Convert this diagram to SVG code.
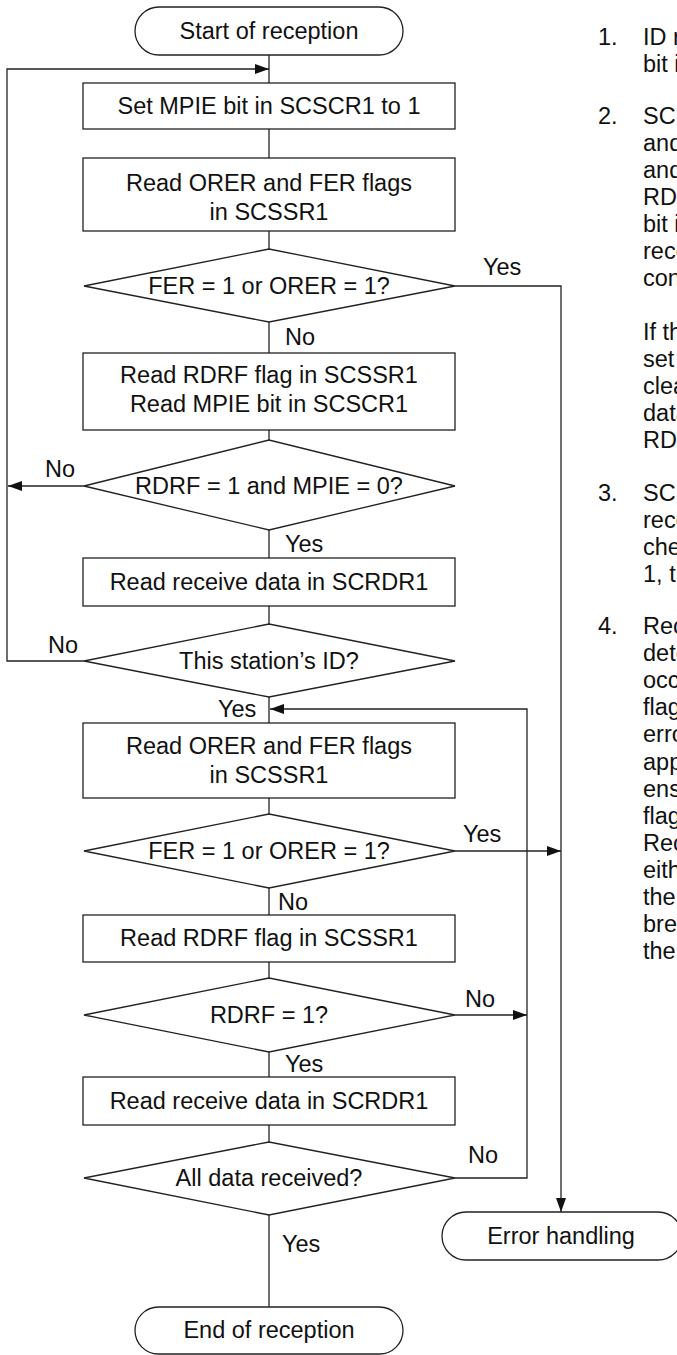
<svg xmlns="http://www.w3.org/2000/svg" width="677" height="1355" viewBox="0 0 677 1355">
<style>
text { font-family: "Liberation Sans", Arial, Helvetica, sans-serif; font-size: 23.5px; fill: #111; }
.c { text-anchor: middle; }
.shape { fill: #fff; stroke: #222; stroke-width: 1.3; }
.ln { fill: none; stroke: #222; stroke-width: 1.3; }
.arr { fill: none; stroke: #222; stroke-width: 1.3; marker-end: url(#ah); }
</style>
<defs>
<marker id="ah" viewBox="0 0 14 10" refX="14" refY="5" markerWidth="14" markerHeight="10" markerUnits="userSpaceOnUse" orient="auto">
<path d="M0,0 L14,5 L0,10 z" fill="#111"/>
</marker>
</defs>
<rect width="677" height="1355" fill="#fff"/>
<g id="connectors">
<path class="ln" d="M269,55 V83"/>
<path class="arr" d="M84,661 H7 V69 H269"/>
<path class="ln" d="M269,129 V158"/>
<path class="ln" d="M269,231 V249"/>
<path class="ln" d="M269,322 V353"/>
<path class="ln" d="M269,430 V440"/>
<path class="arr" d="M84,486 H8"/>
<path class="ln" d="M269,530 V558"/>
<path class="ln" d="M269,606 V624"/>
<path class="ln" d="M269,697 V723"/>
<path class="ln" d="M269,798 V814"/>
<path class="ln" d="M269,888 V915"/>
<path class="ln" d="M269,962 V978"/>
<path class="ln" d="M269,1052 V1077"/>
<path class="ln" d="M269,1125 V1142"/>
<path class="ln" d="M269,1215 V1307"/>
<path class="arr" d="M455,286 H561 V1212"/>
<path class="arr" d="M455,851 H561"/>
<path class="arr" d="M455,1015 H527"/>
<path class="arr" d="M455,1178 H527 V709 H270"/>
<text x="483" y="275">Yes</text>
<text x="285" y="345">No</text>
<text x="45" y="477">No</text>
<text x="285" y="552">Yes</text>
<text x="48" y="653">No</text>
<text x="218" y="717">Yes</text>
<text x="463" y="842">Yes</text>
<text x="278" y="910">No</text>
<text x="465" y="1007">No</text>
<text x="285" y="1072">Yes</text>
<text x="468" y="1163">No</text>
<text x="282" y="1252">Yes</text>
</g>
<g id="start">
<rect class="shape" x="135" y="7" width="268" height="48" rx="24"/>
<text class="c" x="269" y="39">Start of reception</text>
</g>
<g id="set-mpie">
<rect class="shape" x="83" y="83" width="372" height="46"/>
<text class="c" x="269" y="114">Set MPIE bit in SCSCR1 to 1</text>
</g>
<g id="read-orer-1">
<rect class="shape" x="83" y="158" width="372" height="73"/>
<text class="c" x="269" y="191">Read ORER and FER flags</text>
<text class="c" x="269" y="220">in SCSSR1</text>
</g>
<g id="dec-err-1">
<polygon class="shape" points="84,286 269,249 455,286 269,322"/>
<text class="c" x="269" y="294">FER = 1 or ORER = 1?</text>
</g>
<g id="read-rdrf-mpie">
<rect class="shape" x="83" y="353" width="372" height="77"/>
<text class="c" x="269" y="383">Read RDRF flag in SCSSR1</text>
<text class="c" x="269" y="412">Read MPIE bit in SCSCR1</text>
</g>
<g id="dec-rdrf-mpie">
<polygon class="shape" points="84,486 269,440 455,486 269,530"/>
<text class="c" x="269" y="494">RDRF = 1 and MPIE = 0?</text>
</g>
<g id="read-data-1">
<rect class="shape" x="83" y="558" width="372" height="48"/>
<text class="c" x="269" y="590">Read receive data in SCRDR1</text>
</g>
<g id="dec-id">
<polygon class="shape" points="84,661 269,624 455,661 269,697"/>
<text class="c" x="269" y="669">This station’s ID?</text>
</g>
<g id="read-orer-2">
<rect class="shape" x="83" y="723" width="372" height="75"/>
<text class="c" x="269" y="754">Read ORER and FER flags</text>
<text class="c" x="269" y="783">in SCSSR1</text>
</g>
<g id="dec-err-2">
<polygon class="shape" points="84,851 269,814 455,851 269,888"/>
<text class="c" x="269" y="859">FER = 1 or ORER = 1?</text>
</g>
<g id="read-rdrf">
<rect class="shape" x="83" y="915" width="372" height="47"/>
<text class="c" x="269" y="946">Read RDRF flag in SCSSR1</text>
</g>
<g id="dec-rdrf">
<polygon class="shape" points="84,1015 269,978 455,1015 269,1052"/>
<text class="c" x="269" y="1023">RDRF = 1?</text>
</g>
<g id="read-data-2">
<rect class="shape" x="83" y="1077" width="372" height="48"/>
<text class="c" x="269" y="1109">Read receive data in SCRDR1</text>
</g>
<g id="dec-all">
<polygon class="shape" points="84,1178 269,1142 455,1178 269,1215"/>
<text class="c" x="269" y="1186">All data received?</text>
</g>
<g id="end">
<rect class="shape" x="135" y="1307" width="268" height="47" rx="23.5"/>
<text class="c" x="269" y="1338">End of reception</text>
</g>
<g id="error">
<rect class="shape" x="442" y="1212" width="240" height="48" rx="24"/>
<text class="c" x="561" y="1244">Error handling</text>
</g>
<g id="notes">
<text x="598" y="45">1.</text><text x="643" y="45">ID reception</text>
<text x="643" y="72">bit in</text>
<text x="598" y="124">2.</text><text x="643" y="124">SCIF</text>
<text x="643" y="151">and</text>
<text x="643" y="178">and</text>
<text x="643" y="205">RDRF</text>
<text x="643" y="232">bit in</text>
<text x="643" y="259">receive</text>
<text x="643" y="286">continue</text>
<text x="643" y="340">If the</text>
<text x="643" y="367">set</text>
<text x="643" y="394">clear</text>
<text x="643" y="421">data</text>
<text x="643" y="448">RDRF</text>
<text x="598" y="501">3.</text><text x="643" y="501">SCIF</text>
<text x="643" y="528">receive</text>
<text x="643" y="555">check</text>
<text x="643" y="582">1, then</text>
<text x="598" y="634">4.</text><text x="643" y="634">Receive</text>
<text x="643" y="661">detection</text>
<text x="643" y="688">occurs</text>
<text x="643" y="715">flags</text>
<text x="643" y="742">error</text>
<text x="643" y="770">appropriate</text>
<text x="643" y="797">ensure</text>
<text x="643" y="824">flags</text>
<text x="643" y="851">Reception</text>
<text x="643" y="878">either</text>
<text x="643" y="905">the</text>
<text x="643" y="932">break</text>
<text x="643" y="959">the</text>
</g>
</svg>
